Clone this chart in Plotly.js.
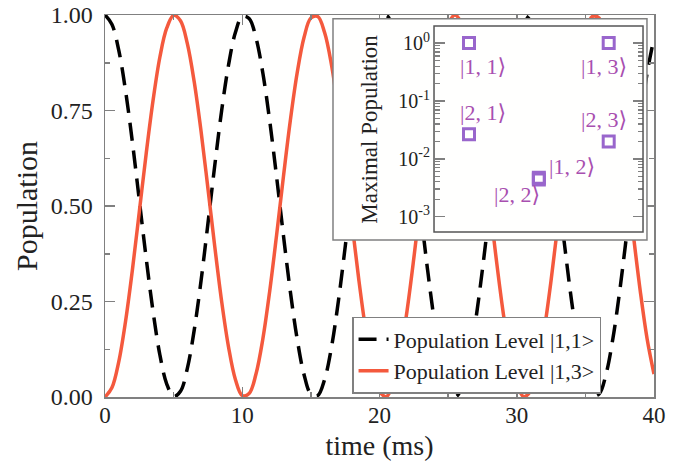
<!DOCTYPE html>
<html>
<head>
<meta charset="utf-8">
<script src="https://cdn.plot.ly/plotly-3.0.1.min.js"></script>
<style>html,body{margin:0;padding:0;background:#fff;}#chart{width:687px;height:461px;}</style>
</head>
<body>
<div id="chart"></div>
<script>
// ---- data ----
var timeMs = [0,0.5,1,1.5,2,2.5,3,3.5,4,4.5,5,5.5,6,6.5,7,7.5,8,8.5,9,9.5,
  10,10.5,11,11.5,12,12.5,13,13.5,14,14.5,15,15.5,16,16.5,17,17.5,18,18.5,19,19.5,
  20,20.5,21,21.5,22,22.5,23,23.5,24,24.5,25,25.5,26,26.5,27,27.5,28,28.5,29,29.5,
  30,30.5,31,31.5,32,32.5,33,33.5,34,34.5,35,35.5,36,36.5,37,37.5,38,38.5,39,39.5,40];
var popLevel11 = [1.000,0.976,0.908,0.801,0.666,0.515,0.363,0.224,0.110,0.034,
  0.001,0.015,0.075,0.175,0.305,0.454,0.607,0.750,0.869,0.954,
  0.996,0.991,0.940,0.848,0.723,0.577,0.423,0.277,0.152,0.059,
  0.008,0.004,0.046,0.130,0.250,0.393,0.546,0.695,0.825,0.925,
  0.985,0.999,0.966,0.890,0.776,0.637,0.485,0.334,0.199,0.092,
  0.023,0.000,0.023,0.092,0.199,0.334,0.485,0.637,0.776,0.890,
  0.966,0.999,0.985,0.925,0.825,0.695,0.546,0.393,0.250,0.130,
  0.046,0.004,0.008,0.059,0.152,0.277,0.423,0.577,0.723,0.848,0.940];
var popLevel13 = [0.000,0.024,0.092,0.199,0.334,0.485,0.637,0.776,0.890,0.966,
  0.999,0.985,0.925,0.825,0.695,0.546,0.393,0.250,0.131,0.046,
  0.004,0.009,0.060,0.152,0.277,0.423,0.577,0.723,0.848,0.941,
  0.992,0.996,0.954,0.870,0.750,0.607,0.454,0.305,0.175,0.075,
  0.015,0.001,0.034,0.110,0.224,0.363,0.515,0.666,0.801,0.908,
  0.977,1.000,0.977,0.908,0.801,0.666,0.515,0.363,0.224,0.110,
  0.034,0.001,0.015,0.075,0.175,0.305,0.454,0.607,0.750,0.870,
  0.954,0.996,0.992,0.941,0.848,0.723,0.577,0.423,0.277,0.152,0.060];
var seriesNames = ['Population Level |1,1>', 'Population Level |1,3>'];

// inset: maximal population per level
var insetStates = ['|1, 1\u27E9', '|2, 1\u27E9', '|1, 2\u27E9', '|2, 2\u27E9', '|1, 3\u27E9', '|2, 3\u27E9'];
var insetN = [1, 1, 2, 2, 3, 3];
var insetMaxPop = [1.0, 0.0267, 0.0047, 0.0044, 1.0, 0.0199];
var mainYTicks = [0, 0.25, 0.5, 0.75, 1.0];
var mainXTicks = [0, 10, 20, 30, 40];
var insetTickVals = [0.001, 0.01, 0.1, 1];
var insetTickText = ['10<sup>-3</sup>', '10<sup>-2</sup>', '10<sup>-1</sup>', '10<sup>0</sup>'];
var insetMinorVals = [0.002,0.003,0.004,0.005,0.006,0.007,0.008,0.009,
  0.02,0.03,0.04,0.05,0.06,0.07,0.08,0.09,
  0.2,0.3,0.4,0.5,0.6,0.7,0.8,0.9];

// ---- chart ----
var SERIF = 'Liberation Serif, DejaVu Serif, Times New Roman, serif';
var AX = '#808080';
var TXT = '#222222';
var KET = '#a84fb0';

var traces = [
  {x: timeMs, y: popLevel11, name: seriesNames[0], type: 'scatter', mode: 'lines',
   line: {color: '#000000', width: 3.5, dash: '18px,10px', shape: 'spline', smoothing: 1},
   hoverinfo: 'skip'},
  {x: timeMs, y: popLevel13, name: seriesNames[1], type: 'scatter', mode: 'lines',
   line: {color: '#f4593d', width: 3.5, shape: 'spline', smoothing: 1},
   hoverinfo: 'skip'},
  {x: insetN, y: insetMaxPop, text: insetStates, xaxis: 'x2', yaxis: 'y2', type: 'scatter', mode: 'markers',
   marker: {symbol: 'square-open', size: 11, color: '#9966cc', line: {width: 3, color: '#9966cc'}},
   showlegend: false, cliponaxis: false, hoverinfo: 'skip'},
  {x: [null], y: [null], xaxis: 'x2', yaxis: 'y3', type: 'scatter', mode: 'markers',
   showlegend: false, hoverinfo: 'skip'}
];

// inset label positions (x in inset units, y as log10)
var ketPos = [[1.2, -0.405], [1.2, -1.206], [2.47, -2.135], [1.694, -2.625], [2.933, -0.405], [2.933, -1.327]];
var annotations = insetStates.map(function (s, i) {
  return {text: s, xref: 'x2', yref: 'y2', x: ketPos[i][0], y: ketPos[i][1],
          showarrow: false, font: {family: SERIF, size: 22, color: KET}};
});

var layout = {
  width: 687, height: 461,
  margin: {l: 105, r: 33, t: 15, b: 64},
  paper_bgcolor: '#ffffff',
  plot_bgcolor: '#fffffe',
  showlegend: true,
  legend: {x: 0.45, y: 0.2095, xanchor: 'left', yanchor: 'top',
           bgcolor: '#ffffff', bordercolor: AX, borderwidth: 1.5,
           font: {family: SERIF, size: 22, color: TXT}, tracegroupgap: 0, itemwidth: 30},
  xaxis: {range: [0, 40], tickmode: 'array', tickvals: mainXTicks,
          ticks: 'inside', ticklen: 10, tickwidth: 1.5, tickcolor: AX,
          minor: {dtick: 5, ticks: 'inside', ticklen: 5, tickwidth: 1.5, tickcolor: AX},
          showline: true, mirror: 'ticks', linecolor: AX, linewidth: 1.5,
          showgrid: false, zeroline: false, ticklabelstandoff: -3,
          tickfont: {family: SERIF, size: 23, color: TXT},
          title: {text: 'time (ms)', font: {family: SERIF, size: 28, color: TXT}, standoff: 10}},
  yaxis: {range: [0, 1], tickmode: 'array', tickvals: mainYTicks, tickformat: '.2f',
          ticks: 'inside', ticklen: 10, tickwidth: 1.5, tickcolor: AX,
          minor: {dtick: 0.125, ticks: 'inside', ticklen: 5, tickwidth: 1.5, tickcolor: AX},
          showline: true, mirror: 'ticks', linecolor: AX, linewidth: 1.5,
          showgrid: false, zeroline: false, ticklabelstandoff: 6,
          tickfont: {family: SERIF, size: 24, color: TXT},
          title: {text: 'Population', font: {family: SERIF, size: 30, color: TXT}, standoff: 4}},
  xaxis2: {domain: [0.4153, 0.9872], range: [-0.947, 3.548], anchor: 'y2',
           showline: false, showticklabels: false, ticks: '', showgrid: false, zeroline: false},
  yaxis2: {domain: [0.411, 0.99], type: 'log', range: [-3.403, 0.420], anchor: 'free', position: 0.5993,
           tickmode: 'array', tickvals: insetTickVals, ticktext: insetTickText,
           ticks: 'inside', ticklen: 10, tickwidth: 1.5, tickcolor: AX,
           minor: {tickmode: 'array', tickvals: insetMinorVals, ticks: 'inside', ticklen: 5, tickwidth: 1.2, tickcolor: AX},
           showline: false, showgrid: false, zeroline: false, ticklabelstandoff: 4,
           tickfont: {family: SERIF, size: 20, color: TXT},
           title: {text: 'Maximal Population', font: {family: SERIF, size: 23, color: TXT}, standoff: 13}},
  yaxis3: {overlaying: 'y2', type: 'log', range: [-3.403, 0.420], anchor: 'free', position: 0.980, side: 'right',
           tickmode: 'array', tickvals: insetTickVals, showticklabels: false,
           ticks: 'inside', ticklen: 10, tickwidth: 1.5, tickcolor: AX,
           minor: {tickmode: 'array', tickvals: insetMinorVals, ticks: 'inside', ticklen: 5, tickwidth: 1.2, tickcolor: AX},
           showline: false, showgrid: false, zeroline: false},
  shapes: [
    {type: 'rect', xref: 'paper', yref: 'paper', x0: 0.4153, x1: 0.9872, y0: 0.411, y1: 0.99,
     line: {color: AX, width: 1.5}, fillcolor: 'rgba(0,0,0,0)', layer: 'above'},
    {type: 'rect', xref: 'paper', yref: 'paper', x0: 0.5993, x1: 0.980, y0: 0.432, y1: 0.971,
     line: {color: '#555555', width: 1.5}, fillcolor: 'rgba(0,0,0,0)', layer: 'above'}
  ],
  annotations: annotations
};

Plotly.newPlot('chart', traces, layout, {displayModeBar: false, staticPlot: true});
</script>
</body>
</html>
